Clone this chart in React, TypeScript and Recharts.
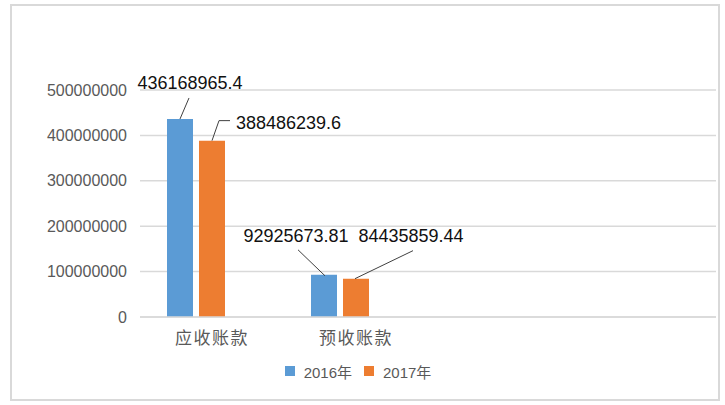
import React from 'react';
import { BarChart, Bar, XAxis, YAxis, CartesianGrid, Legend, LabelList } from 'recharts';

const categories = ['应收账款', '预收账款', '', ''];
const values2016 = [436168965.4, 92925673.81, null, null];
const values2017 = [388486239.6, 84435859.44, null, null];
const valuesEmpty = [null, null, null, null];
const yTicks = [0, 100000000, 200000000, 300000000, 400000000, 500000000];
const seriesNames = ['2016年', '2017年'];
const seriesColors = ['#5B9BD5', '#ED7D31'];

const data = categories.map((c, i) => ({
  key: `c${i}`,
  name: c,
  v2016: values2016[i],
  v2017: values2017[i],
  vEmpty: valuesEmpty[i],
}));

// leader-line layouts relative to the bar's top centre
type LabelLayout = { path: number[][]; tx: number; ty: number; anchor: 'start' | 'middle' | 'end' };
const layouts: Record<string, LabelLayout[]> = {
  v2016: [
    { path: [[0, 0], [9, -21]], tx: 10, ty: -30, anchor: 'middle' },
    { path: [[1, 1], [-26, -25]], tx: -28, ty: -33, anchor: 'middle' },
  ],
  v2017: [
    { path: [[0, 0], [7, -20], [18, -20]], tx: 24, ty: -12, anchor: 'start' },
    { path: [[-1, 0], [57, -28]], tx: 55, ty: -37, anchor: 'middle' },
  ],
};

const makeLabel = (series: string) => (props: any) => {
  const { x, y, width, value, index } = props;
  if (value == null) return null;
  const l = layouts[series][index];
  if (!l) return null;
  const cx = Number(x) + Number(width) / 2;
  const top = Number(y);
  const d = l.path.map((p, i) => `${i === 0 ? 'M' : 'L'}${cx + p[0]},${top + p[1]}`).join(' ');
  return (
    <g>
      <path d={d} stroke="#404040" strokeWidth={1} fill="none" />
      <text
        x={cx + l.tx}
        y={top + l.ty}
        textAnchor={l.anchor}
        fontSize={18}
        fontFamily="'Liberation Sans', Arial, sans-serif"
        fill="#111"
      >
        {String(value)}
      </text>
    </g>
  );
};

const renderLegend = () => (
  <div style={{ display: 'flex', justifyContent: 'center', alignItems: 'center', height: 24, fontFamily: "'Liberation Sans', 'Noto Sans CJK SC', sans-serif", fontSize: 15, color: '#595959' }}>
    {seriesNames.map((n, i) => (
      <span key={n} style={{ display: 'inline-flex', alignItems: 'center', marginLeft: i === 0 ? 0 : 12 }}>
        <span style={{ display: 'inline-block', width: 10, height: 10, background: seriesColors[i], marginRight: 9 }} />
        {n}
      </span>
    ))}
  </div>
);

export default function App() {
  return (
    <div style={{ position: 'absolute', left: 0, top: 0, width: 725, height: 405, background: '#fff' }}>
      <div style={{ position: 'absolute', left: 10, top: 4, width: 706, height: 393, border: '2px solid #d9d9d9' }} />
      <div style={{ position: 'absolute', left: 0, top: 0 }}>
        <BarChart
          width={725}
          height={405}
          data={data}
          margin={{ top: 90, right: 9, bottom: 22, left: 0 }}
          barSize={26}
          barGap={6}
          barCategoryGap={27}
        >
          <CartesianGrid vertical={false} stroke="#d9d9d9" strokeWidth={1.5} />
          <XAxis
            dataKey="key"
            height={42}
            tickLine={false}
            tickSize={0}
            tickMargin={15}
            axisLine={{ stroke: '#d9d9d9', strokeWidth: 1.5 }}
            tickFormatter={(_v: any, i: number) => categories[i]}
            tick={{ fontSize: 17, fill: '#595959', fontFamily: "'Noto Sans CJK SC', sans-serif", letterSpacing: 1.5 }}
          />
          <YAxis
            width={140}
            domain={[0, 500000000]}
            ticks={yTicks}
            axisLine={false}
            tickLine={false}
            tickSize={0}
            tickMargin={13}
            interval={0}
            tick={{ fontSize: 16, fill: '#595959', fontFamily: "'Liberation Sans', Arial, sans-serif" }}
          />
          <Legend verticalAlign="bottom" height={24} content={renderLegend} />
          <Bar dataKey="v2016" name={seriesNames[0]} fill={seriesColors[0]} isAnimationActive={false}>
            <LabelList dataKey="v2016" content={makeLabel('v2016')} />
          </Bar>
          <Bar dataKey="v2017" name={seriesNames[1]} fill={seriesColors[1]} isAnimationActive={false}>
            <LabelList dataKey="v2017" content={makeLabel('v2017')} />
          </Bar>
          <Bar dataKey="vEmpty" legendType="none" fill="#A5A5A5" isAnimationActive={false} />
        </BarChart>
      </div>
    </div>
  );
}
